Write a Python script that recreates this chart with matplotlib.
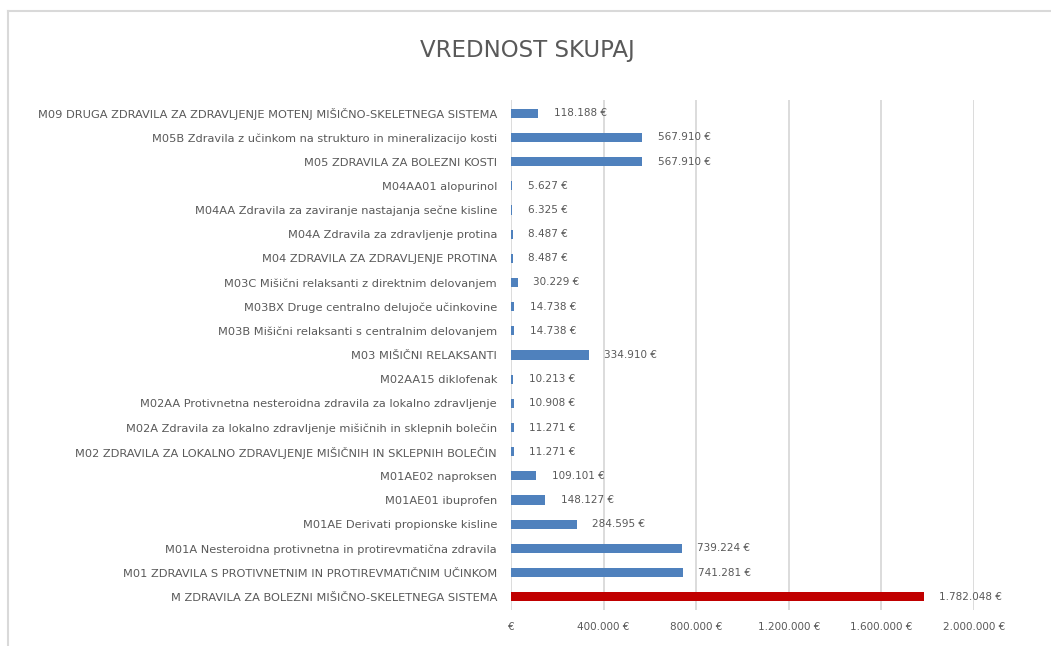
import matplotlib
matplotlib.use("Agg")
import matplotlib.pyplot as plt
from matplotlib.lines import Line2D
from matplotlib.ticker import FuncFormatter

categories = [
    "M09 DRUGA ZDRAVILA ZA ZDRAVLJENJE MOTENJ MIŠIČNO-SKELETNEGA SISTEMA",
    "M05B Zdravila z učinkom na strukturo in mineralizacijo kosti",
    "M05 ZDRAVILA ZA BOLEZNI KOSTI",
    "M04AA01 alopurinol",
    "M04AA Zdravila za zaviranje nastajanja sečne kisline",
    "M04A Zdravila za zdravljenje protina",
    "M04 ZDRAVILA ZA ZDRAVLJENJE PROTINA",
    "M03C Mišični relaksanti z direktnim delovanjem",
    "M03BX Druge centralno delujoče učinkovine",
    "M03B Mišični relaksanti s centralnim delovanjem",
    "M03 MIŠIČNI RELAKSANTI",
    "M02AA15 diklofenak",
    "M02AA Protivnetna nesteroidna zdravila za lokalno zdravljenje",
    "M02A Zdravila za lokalno zdravljenje mišičnih in sklepnih bolečin",
    "M02 ZDRAVILA ZA LOKALNO ZDRAVLJENJE MIŠIČNIH IN SKLEPNIH BOLEČIN",
    "M01AE02 naproksen",
    "M01AE01 ibuprofen",
    "M01AE Derivati propionske kisline",
    "M01A Nesteroidna protivnetna in protirevmatična zdravila",
    "M01 ZDRAVILA S PROTIVNETNIM IN PROTIREVMATIČNIM UČINKOM",
    "M ZDRAVILA ZA BOLEZNI MIŠIČNO-SKELETNEGA SISTEMA",
]
values = [118188, 567910, 567910, 5627, 6325, 8487, 8487, 30229, 14738, 14738,
          334910, 10213, 10908, 11271, 11271, 109101, 148127, 284595, 739224,
          741281, 1782048]
x_ticks = [0, 400000, 800000, 1200000, 1600000, 2000000]

blue = "#4f81bd"
red = "#c00000"
text_col = "#595959"


def eur(v):
    if v == 0:
        return "€"
    return f"{v:,.0f}".replace(",", ".") + " €"


fig = plt.figure(figsize=(10.51, 6.46), dpi=100)
ax = fig.add_axes([511 / 1051, 1 - 610 / 646, (974 - 511) / 1051, (610 - 100) / 646])

colors = [blue] * (len(values) - 1) + [red]
y = list(range(len(values)))[::-1]
ax.barh(y, values, height=0.38, color=colors, zorder=3)

for yi, v in zip(y, values):
    ax.annotate(eur(v), (v, yi), xytext=(11, 0), textcoords="offset points",
                va="center", ha="left", fontsize=7.5, color=text_col)

ax.set_xlim(0, 2000000)
ax.set_ylim(-0.55, len(values) - 0.45)
ax.set_xticks(x_ticks)
ax.xaxis.set_major_formatter(FuncFormatter(lambda v, p: eur(v)))
ax.set_yticks(y)
ax.set_yticklabels(categories, fontsize=8.2)
ax.tick_params(axis="both", length=0, colors=text_col)
ax.tick_params(axis="x", labelsize=7.5, pad=9)
ax.tick_params(axis="y", pad=10)
ax.xaxis.grid(True, color="#d9d9d9", linewidth=1.3, zorder=0)
for s in ax.spines.values():
    s.set_visible(False)

fig.text(527 / 1051, 1 - 50 / 646, "VREDNOST SKUPAJ", ha="center", va="center",
         fontsize=16.5, color=text_col)

# chart frame
fig.add_artist(Line2D([8 / 1051, 8 / 1051], [0, 1 - 11 / 646], transform=fig.transFigure,
                      color="#d9d9d9", linewidth=1.5))
fig.add_artist(Line2D([8 / 1051, 1], [1 - 11 / 646, 1 - 11 / 646], transform=fig.transFigure,
                      color="#d9d9d9", linewidth=1.5))

fig.savefig("out.png", dpi=100)
